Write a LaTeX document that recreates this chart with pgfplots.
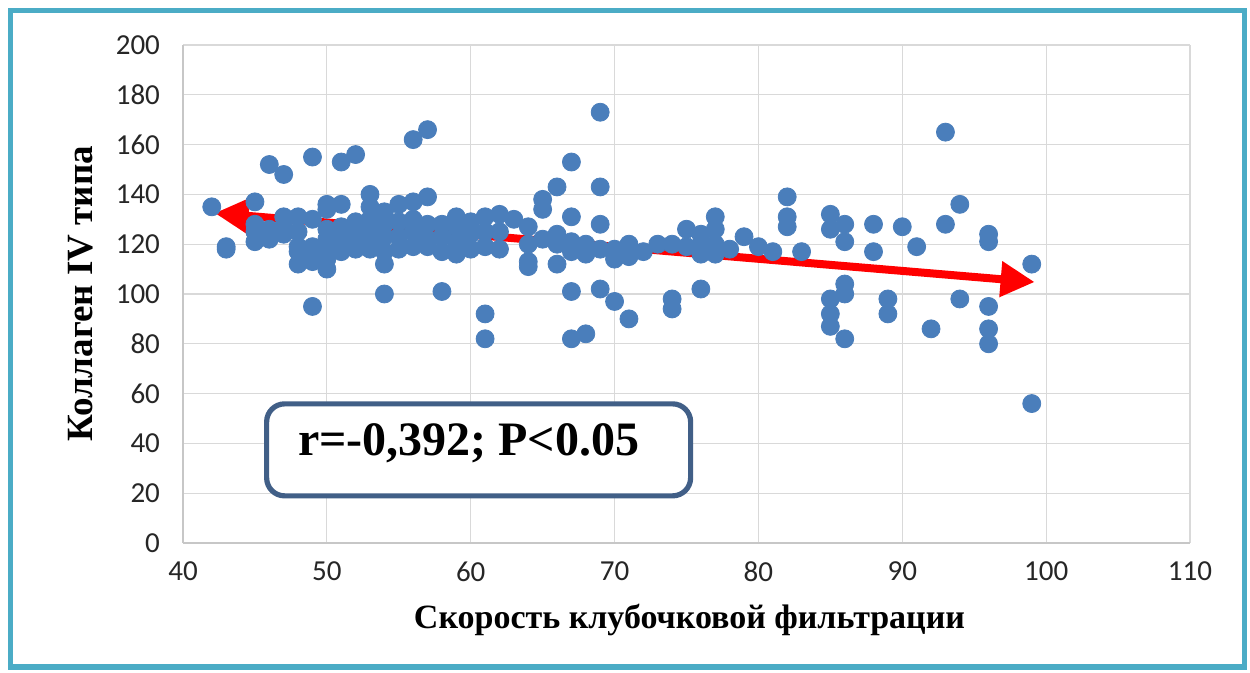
\documentclass[border=0pt]{standalone}
\usepackage{pgfplots}
\pgfplotsset{compat=1.18}
\usepackage{fontspec}
\setmainfont{Carlito}
\newfontfamily\serifb{Liberation Serif}
\usetikzlibrary{arrows.meta}
\definecolor{ptblue}{RGB}{74,126,187}
\definecolor{frameteal}{RGB}{75,172,198}
\definecolor{boxblue}{RGB}{65,95,135}
\definecolor{gridgray}{RGB}{217,217,217}
\begin{document}
\begin{tikzpicture}
\useasboundingbox (0,0) rectangle (625pt,336.5pt);
\fill[white] (0,0) rectangle (625pt,336.5pt);
\draw[frameteal, line width=2.6pt] (5.2pt,3pt) rectangle (622.3pt,331.3pt);
\begin{axis}[
  at={(91.5pt,65pt)}, anchor=south west,
  scale only axis, width=503.5pt, height=249pt,
  xmin=40, xmax=110, ymin=0, ymax=200,
  xtick={40,50,...,110}, ytick={0,20,...,200},
  grid=major, major grid style={draw=gridgray, line width=0.6pt},
  axis line style={draw=gridgray!80!gray, line width=0.7pt},
  axis x line*=bottom, axis y line*=left,
  x axis line style={-}, y axis line style={-},
  major tick length=0pt,
  tick label style={font=\fontsize{14.5}{16}\selectfont, text=black!85},
  /pgf/number format/assume math mode=true,
  xticklabel style={yshift=-6pt},
  yticklabel style={xshift=-8pt},
  xlabel={\serifb\bfseries\fontsize{17}{18}\selectfont Скорость клубочковой фильтрации},
  ylabel={\serifb\bfseries\fontsize{18.5}{20}\selectfont Коллаген IV типа},
  every axis x label/.style={at={(axis description cs:0.503,-0.155)}, anchor=center},
  every axis y label/.style={at={(axis description cs:-0.102,0.5)}, rotate=90, anchor=center},
  clip=false,
]
\addplot[only marks, mark=*, mark size=4.5pt, mark options={fill=ptblue, draw=ptblue}] coordinates {
(42,135) (43,118) (43,119) (45,137) (45,121) (45,125) (45,128) (46,152) (46,122) (46,126)
(47,148) (47,124) (47,127) (47,131) (48,131) (48,125) (48,117) (48,112) (48,119)
(49,155) (49,95) (49,113) (49,116) (49,119) (49,130)
(50,136) (50,134) (50,126) (50,122) (50,114) (50,110) (50,118)
(51,153) (51,136) (51,127) (51,121) (51,117) (51,124)
(52,156) (52,129) (52,124) (52,120) (52,118)
(53,140) (53,135) (53,130) (53,126) (53,121) (53,118)
(54,100) (54,133) (54,128) (54,123) (54,117) (54,112)
(55,136) (55,129) (55,123) (55,118)
(56,162) (56,137) (56,130) (56,125) (56,119)
(57,166) (57,139) (57,128) (57,122) (57,119)
(58,101) (58,128) (58,123) (58,117)
(59,131) (59,127) (59,121) (59,116)
(60,129) (60,124) (60,118)
(61,131) (61,125) (61,119) (61,92) (61,82)
(62,132) (62,125) (62,118) (63,130)
(64,127) (64,120) (64,111) (64,113)
(65,138) (65,134) (65,122)
(66,143) (66,124) (66,120) (66,112)
(67,153) (67,131) (67,121) (67,117) (67,101) (67,82)
(68,84) (68,120) (68,116)
(69,173) (69,143) (69,128) (69,118) (69,102)
(70,97) (70,118) (70,114) (71,115) (71,90) (71,120) (72,117) (73,120)
(74,94) (74,98) (74,120) (75,126) (75,119)
(76,102) (76,124) (76,120) (76,116)
(77,131) (77,126) (77,116) (77,120) (78,118) (79,123) (80,119) (81,117)
(82,139) (82,131) (82,127) (83,117)
(85,132) (85,126) (85,98) (85,92) (85,87)
(86,128) (86,121) (86,104) (86,100) (86,82)
(88,128) (88,117) (89,98) (89,92) (90,127) (91,119) (92,86)
(93,165) (93,128) (94,136) (94,98)
(96,124) (96,121) (96,95) (96,86) (96,80)
(99,112) (99,56)
};
\addplot[red, line width=4pt, {Triangle[length=17pt,width=17pt]}-{Triangle[length=17pt,width=17pt]}] coordinates {(42.2,132.5) (99.2,104.8)};
\node[draw=boxblue, line width=2.6pt, rounded corners=9pt, fill=white, minimum width=212pt, minimum height=46pt, inner sep=0pt] at (axis cs:60.55,37.4) {};
\node[anchor=center] at (axis cs:59.86,40.2) {\serifb\bfseries\fontsize{24}{26}\selectfont r=-0,392; P<0.05};
\end{axis}
\end{tikzpicture}
\end{document}
